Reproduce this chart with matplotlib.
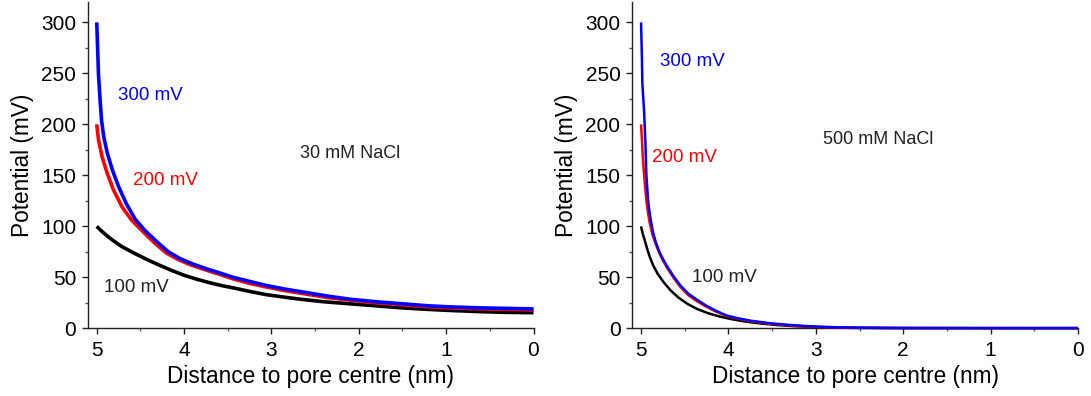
import matplotlib
matplotlib.use("Agg")
import matplotlib.pyplot as plt
from matplotlib.ticker import MultipleLocator

plt.rcParams['font.family'] = ['Liberation Sans', 'DejaVu Sans']

# 30 mM NaCl panel
d30_300 = [5.00, 4.99, 4.98, 4.96, 4.945, 4.92, 4.88, 4.82, 4.75, 4.66, 4.56, 4.45,
           4.30, 4.18, 4.05, 3.90, 3.75, 3.60, 3.44, 3.25, 3.06, 2.85, 2.60, 2.35,
           2.10, 1.80, 1.50, 1.20, 0.96, 0.60, 0.30, 0.00]
v30_300 = [300, 275, 249, 222, 204, 188, 172, 155, 139, 122, 107, 96,
           84, 75, 68.5, 63, 58.5, 54.5, 50, 46, 42, 38.5, 35, 31.5,
           28.5, 26, 24, 22, 21, 20, 19.5, 19]
d30_200 = [5.00, 4.98, 4.94, 4.88, 4.81, 4.71, 4.60, 4.45, 4.33, 4.20, 4.08, 3.95,
           3.80, 3.60, 3.44, 3.25, 3.06, 2.85, 2.60, 2.35, 2.10, 1.80, 1.50, 1.20,
           0.96, 0.60, 0.30, 0.00]
v30_200 = [200, 185, 168.5, 152, 136, 119, 106, 93, 83, 73.6, 68, 63,
           58.5, 53, 48.5, 44, 40.5, 37, 33.5, 30, 27.5, 25, 23, 21,
           20, 19, 18.5, 18]
d30_100 = [5.00, 4.96, 4.90, 4.82, 4.72, 4.58, 4.45, 4.30, 4.15, 4.00, 3.85, 3.70,
           3.55, 3.43, 3.24, 3.06, 2.85, 2.67, 2.40, 2.10, 1.80, 1.50, 1.20, 0.96,
           0.60, 0.30, 0.00]
v30_100 = [100, 96.5, 92, 86.5, 80.5, 74, 68.5, 62.5, 57, 52, 48, 44.5,
           41.5, 39.5, 36, 33, 30.5, 28.5, 26, 24, 22, 20, 18.5, 17.5,
           16.3, 15.6, 15.3]

# 500 mM NaCl panel
d500_300 = [5.00, 4.99, 4.985, 4.966, 4.95, 4.94, 4.92, 4.90, 4.88, 4.86, 4.83, 4.79,
            4.75, 4.70, 4.62, 4.55, 4.46, 4.36, 4.25, 4.14, 4.02, 3.90, 3.75, 3.53,
            3.35, 3.15, 3.00, 2.80, 2.50, 2.00, 1.00, 0.00]
v500_300 = [300, 265, 240, 214, 182, 152, 126, 112, 102, 93, 84, 75,
            68, 60.5, 50, 42, 34, 28, 22, 17, 12.5, 10, 7.5, 5,
            3.6, 2.4, 1.7, 1.1, 0.6, 0.3, 0.2, 0.2]
d500_200 = [5.00, 4.99, 4.98, 4.96, 4.94, 4.92, 4.90, 4.87, 4.83, 4.79, 4.75, 4.70,
            4.62, 4.55, 4.46, 4.36, 4.25, 4.14, 4.02, 3.90, 3.75, 3.53, 3.35, 3.15,
            3.00, 2.80, 2.50, 2.00, 1.00, 0.00]
v500_200 = [200, 185, 168, 145, 126, 113, 103, 92, 82, 73.5, 66.5, 59,
            48.5, 40.5, 32.5, 26.5, 21, 16.3, 12, 9.5, 7, 4.5, 3.2, 2.0,
            1.4, 0.9, 0.5, 0.3, 0.2, 0.2]
d500_100 = [5.00, 4.99, 4.98, 4.96, 4.93, 4.90, 4.86, 4.81, 4.74, 4.66, 4.57, 4.47,
            4.36, 4.24, 4.10, 3.95, 3.80, 3.62, 3.45, 3.25, 3.05, 2.85, 2.60, 2.20,
            1.50, 0.00]
v500_100 = [100, 96, 92.5, 87, 78, 70, 61.5, 53.5, 45, 37, 30, 24,
            19, 15, 11.5, 8.7, 6.5, 4.6, 3.2, 2.1, 1.3, 0.8, 0.4, 0.2,
            0.1, 0.1]

x_ticks = [5, 4, 3, 2, 1, 0]
y_ticks = [0, 50, 100, 150, 200, 250, 300]

fig = plt.figure(figsize=(10.91, 3.96), dpi=100)
ax1 = fig.add_axes([88 / 1091, 0.171, 445.5 / 1091, 0.824])
ax2 = fig.add_axes([632.3 / 1091, 0.171, 445.7 / 1091, 0.824])

panels = [
    (ax1, [(d30_100, v30_100, 'black'), (d30_200, v30_200, '#ff0000'), (d30_300, v30_300, '#0000ff')], 2.6),
    (ax2, [(d500_100, v500_100, 'black'), (d500_200, v500_200, '#ff0000'), (d500_300, v500_300, '#0000ff')], 1.8),
]

for ax, series, lw in panels:
    for d, v, c in series:
        ax.plot(d, v, color=c, lw=lw, solid_capstyle='butt', solid_joinstyle='round',
                clip_on=False, zorder=3)
    ax.set_xlim(5.1, 0)
    ax.set_ylim(0, 320)
    ax.set_xticks(x_ticks)
    ax.set_yticks(y_ticks)
    ax.xaxis.set_minor_locator(MultipleLocator(0.5))
    ax.yaxis.set_minor_locator(MultipleLocator(25))
    for s in ('top', 'right'):
        ax.spines[s].set_visible(False)
    for s in ('left', 'bottom'):
        ax.spines[s].set_linewidth(1.0)
        ax.spines[s].set_color('#222222')
    ax.tick_params(which='major', direction='out', length=4.5, width=1.0, color='#222222',
                   labelsize=15, pad=4)
    ax.tick_params(which='minor', direction='out', length=2.5, width=1.0, color='#555555')
    ax.tick_params(axis='x', which='major', pad=5)
    ax.set_xlabel('Distance to pore centre (nm)', fontsize=16.3, labelpad=3)
    ax.set_ylabel('Potential (mV)', fontsize=16.3, labelpad=5)

ax1.text(4.76, 228, '300 mV', color='#0000ff', fontsize=13.5, va='center', ha='left')
ax1.text(4.59, 145, '200 mV', color='#ff0000', fontsize=13.5, va='center', ha='left')
ax1.text(4.92, 40, '100 mV', color='#222222', fontsize=13.5, va='center', ha='left')
ax1.text(2.10, 171, '30 mM NaCl', color='#222222', fontsize=13, va='center', ha='center')

ax2.text(4.78, 262, '300 mV', color='#0000ff', fontsize=13.5, va='center', ha='left')
ax2.text(4.87, 167, '200 mV', color='#ff0000', fontsize=13.5, va='center', ha='left')
ax2.text(4.42, 50, '100 mV', color='#222222', fontsize=13.5, va='center', ha='left')
ax2.text(2.29, 185, '500 mM NaCl', color='#222222', fontsize=13, va='center', ha='center')

fig.savefig('out.png', dpi=100)
